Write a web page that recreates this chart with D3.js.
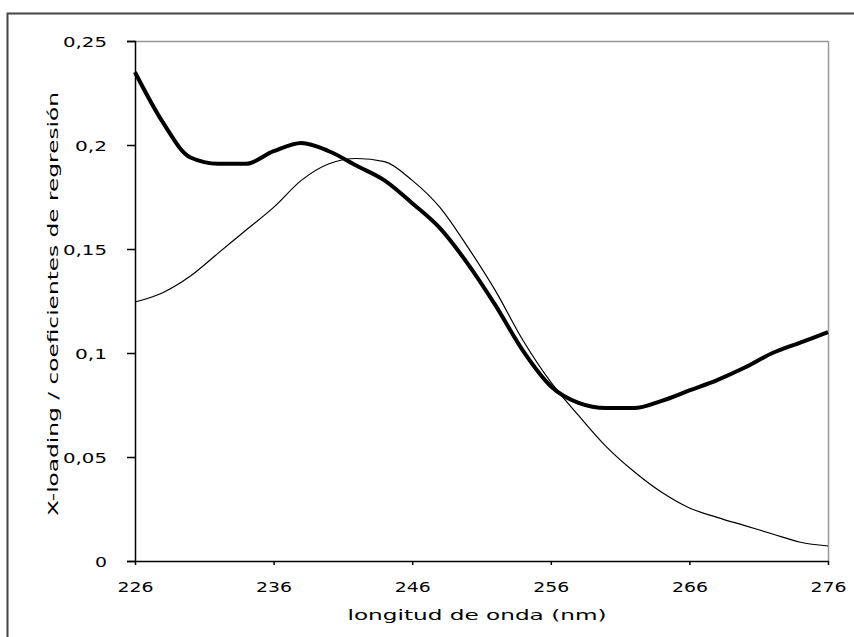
<!DOCTYPE html>
<html>
<head>
<meta charset="utf-8">
<script src="https://cdn.jsdelivr.net/npm/d3@7"></script>
<style>
  body { margin: 0; background: #fff; }
  svg text { font-family: "DejaVu Sans", Arial, sans-serif; fill: #000; }
</style>
</head>
<body>
<div id="root"></div>
<script>
// longitudes de onda (nm), cada 2 nm
let wavelengths = [226, 228, 230, 232, 234, 236, 238, 240, 242, 244, 246, 248, 250,
  252, 254, 256, 258, 260, 262, 264, 266, 268, 270, 272, 274, 276];
// coeficientes de regresion (linea gruesa)
let coefs = [0.235, 0.211, 0.194, 0.191, 0.191, 0.197, 0.201, 0.197, 0.190, 0.183, 0.172, 0.160, 0.143,
  0.123, 0.101, 0.084, 0.076, 0.0735, 0.0735, 0.077, 0.082, 0.087, 0.093, 0.100, 0.105, 0.110];
// X-loading (linea fina)
let loading = [0.1245, 0.129, 0.137, 0.148, 0.159, 0.170, 0.183, 0.191, 0.1935, 0.192, 0.183, 0.170, 0.151,
  0.130, 0.106, 0.086, 0.070, 0.055, 0.043, 0.033, 0.0255, 0.021, 0.017, 0.013, 0.009, 0.0072];
let xTicks = [226, 236, 246, 256, 266, 276];
let yTicks = [0, 0.05, 0.1, 0.15, 0.2, 0.25];

let W = 854, H = 637;
let m = { left: 135, top: 41, right: 828, bottom: 561 };

let svg = d3.select("#root").append("svg").attr("width", W).attr("height", H);

// marco exterior (solo izquierda y arriba visibles)
svg.append("path")
  .attr("d", `M7.5,${H} L7.5,13.5 L${W},13.5`)
  .attr("fill", "none").attr("stroke", "#444").attr("stroke-width", 2);

let x = d3.scaleLinear().domain([226, 276]).range([m.left, m.right]);
let y = d3.scaleLinear().domain([0, 0.25]).range([m.bottom, m.top]);
let fmt = d => String(d).replace(".", ",");
// ancho de las etiquetas (la fuente del original es muy ancha)
let labelLen = s => s.split("").reduce((a, c) => a + (c === "," ? 8 : 12), 0);

// borde gris arriba y derecha
svg.append("path")
  .attr("d", `M${m.left},${m.top + 0.5} L${m.right + 0.5},${m.top + 0.5} L${m.right + 0.5},${m.bottom}`)
  .attr("fill", "none").attr("stroke", "#999").attr("stroke-width", 1.5);

// eje y
let yAxis = svg.append("g")
  .attr("transform", `translate(${m.left},0)`)
  .call(d3.axisLeft(y).tickValues(yTicks).tickFormat(fmt).tickSize(8).tickPadding(20));
yAxis.select(".domain").attr("stroke", "#000").attr("stroke-width", 1.5);
yAxis.selectAll("line").attr("stroke", "#000").attr("stroke-width", 1.5);
yAxis.selectAll("text")
  .style("font-size", "14px").attr("dy", "0.38em")
  .attr("textLength", function() { return labelLen(this.textContent); })
  .attr("lengthAdjust", "spacingAndGlyphs");

// eje x
let xAxis = svg.append("g")
  .attr("transform", `translate(0,${m.bottom})`)
  .call(d3.axisBottom(x).tickValues(xTicks).tickSize(4).tickSizeOuter(0).tickPadding(17));
xAxis.select(".domain").attr("stroke", "#000").attr("stroke-width", 1.5);
xAxis.selectAll("line").attr("stroke", "#000").attr("stroke-width", 1.5);
xAxis.selectAll("text")
  .style("font-size", "14px")
  .attr("textLength", function() { return labelLen(this.textContent); })
  .attr("lengthAdjust", "spacingAndGlyphs");

// titulos
svg.append("text")
  .attr("x", 477).attr("y", 620)
  .attr("text-anchor", "middle")
  .attr("textLength", 259).attr("lengthAdjust", "spacingAndGlyphs")
  .style("font-size", "14px")
  .text("longitud de onda (nm)");
svg.append("text")
  .attr("transform", `translate(58,304) rotate(-90)`)
  .attr("text-anchor", "middle")
  .attr("textLength", 424).attr("lengthAdjust", "spacingAndGlyphs")
  .style("font-size", "14px")
  .text("X-loading / coeficientes de regresión");

let line = vals => d3.line()
  .curve(d3.curveMonotoneX)
  .x((d, i) => x(wavelengths[i]))
  .y(d => y(d))(vals);

svg.append("path").attr("d", line(loading))
  .attr("fill", "none").attr("stroke", "#000").attr("stroke-width", 1.2);
svg.append("path").attr("d", line(coefs))
  .attr("fill", "none").attr("stroke", "#000").attr("stroke-width", 4);
</script>
</body>
</html>
